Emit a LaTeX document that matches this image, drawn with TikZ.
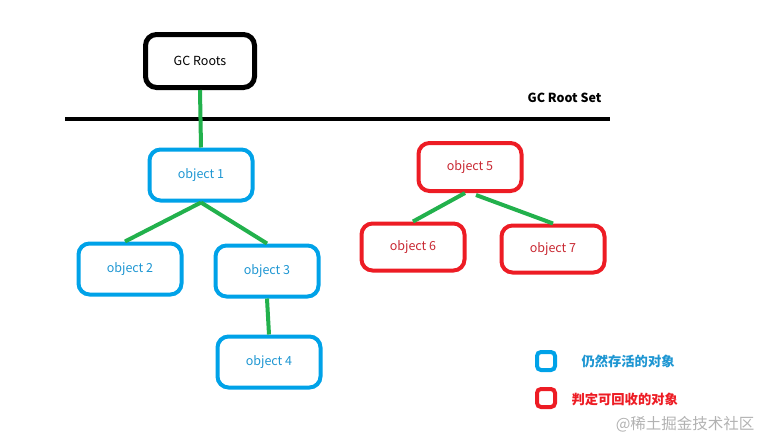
\documentclass[tikz,border=0pt]{standalone}
\usepackage{fontspec}
\newfontfamily\cjk{Noto Sans CJK SC}
\usepackage{tikz}
\usetikzlibrary{calc}

\definecolor{aliveblue}{RGB}{0,162,232}
\definecolor{deadred}{RGB}{237,28,36}
\definecolor{linkgreen}{RGB}{34,177,76}
\definecolor{bluetext}{RGB}{30,150,210}
\definecolor{redtext}{RGB}{200,40,50}

\tikzset{
  objbox/.style={draw, rounded corners=11pt, line width=4pt, minimum width=103pt, minimum height=51pt, font=\cjk\fontsize{12.5}{14}\selectfont},
  alive/.style={objbox, draw=aliveblue, text=bluetext},
  dead/.style={objbox, draw=deadred, text=redtext},
  link/.style={linkgreen, line width=4pt},
  keybox/.style={draw, rounded corners=4pt, line width=4pt, minimum size=18pt, inner sep=0pt}
}

\begin{document}
\begin{tikzpicture}[x=1pt,y=-1pt]
          \useasboundingbox (0,0) rectangle (766,447);

          \node [objbox, draw=black, line width=5pt, minimum width=109pt, minimum height=53pt] (roots) at (200,61) {GC Roots}; % Draws the root box
          \draw [line width=4pt] (65,119) -- (610,119); % Draws the root set line
          \node [anchor=east, font=\cjk\bfseries\fontsize{12.5}{14}\selectfont] (rootset) at (605,98) {GC Root Set};

          \node [alive] (obj1) at (201,175) {object 1}; % Draws a rectangle
          \node [alive] (obj2) at (130,269) {object 2}; % Draws a rectangle
          \node [alive] (obj3) at (267,271) {object 3}; % Draws a rectangle
          \node [alive] (obj4) at (269,362) {object 4}; % Draws a rectangle

          \node [dead, minimum height=48pt] (obj5) at (470,167) {object 5}; % Draws a rectangle
          \node [dead, minimum height=47pt] (obj6) at (413,247) {object 6}; % Draws a rectangle
          \node [dead, minimum height=47pt] (obj7) at (553,249) {object 7}; % Draws a rectangle

          \draw [link] (roots.south) to (obj1.north);

          \draw [link] (obj1.south) to ($(obj2.north)+(-5,0)$);
          \draw [link] (obj1.south) to (obj3.north);
          \draw [link] (obj3.south) to (obj4.north);

          \draw [link] ($(obj5.south)+(-5,0)$) to (obj6.north);
          \draw [link] ($(obj5.south)+(6,2)$) to (obj7.north);

          % legend
          \node [keybox, draw=aliveblue] (keyalive) at (546,361) {};
          \node [anchor=west, text=bluetext, font=\cjk\bfseries\fontsize{13.3}{15}\selectfont] (alivetext) at (578,361) {仍然存活的对象};
          \node [keybox, draw=deadred] (keydead) at (546,398) {};
          \node [anchor=west, text=deadred, font=\cjk\bfseries\fontsize{13.3}{15}\selectfont] (deadtext) at (568,399) {判定可回收的对象};

          \node [anchor=east, text=black!30, font=\cjk\fontsize{15.5}{17}\selectfont] (mark) at (758,424) {@稀土掘金技术社区};
        \end{tikzpicture}
\end{document}
